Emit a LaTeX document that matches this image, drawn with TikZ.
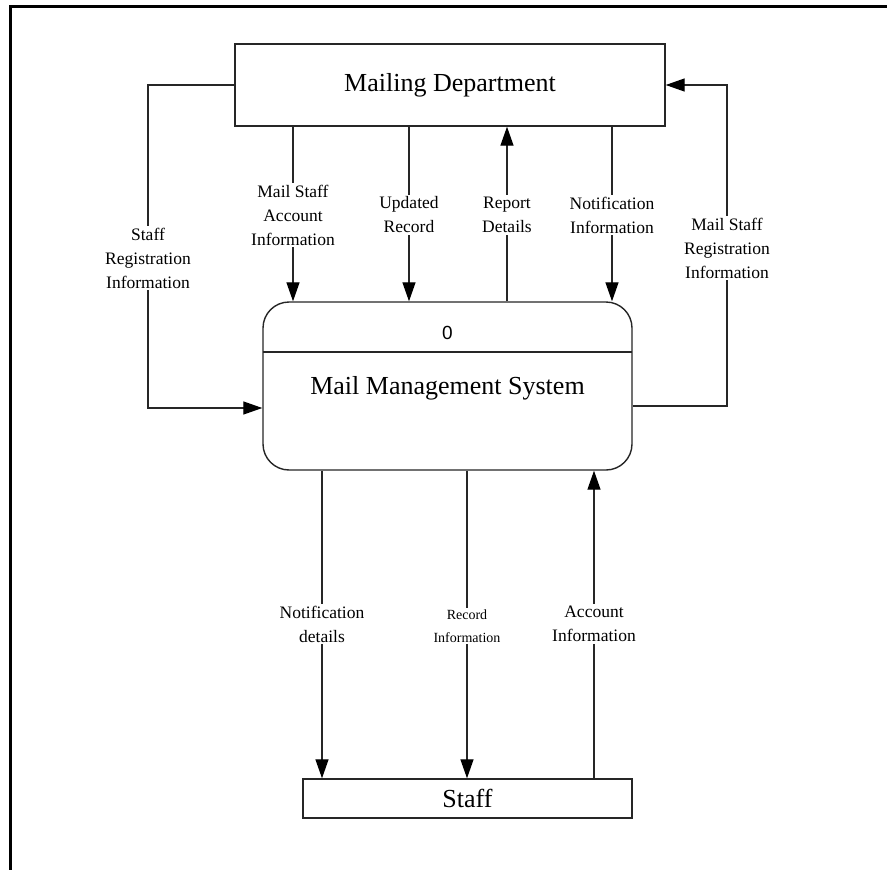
\documentclass[tikz,border=0pt]{standalone}
\usepackage{fontspec}
\setmainfont{Liberation Serif}
\newfontfamily\zerofont{Liberation Sans}
\usetikzlibrary{arrows.meta}
\begin{document}
\begin{tikzpicture}[x=1pt,y=-1pt,
  flow/.style={line width=1.3pt,draw=black!85,-{Triangle[length=19pt,width=13pt,fill=black,color=black]}},
  plainline/.style={line width=1.3pt,draw=black!85},
  entity/.style={draw=black!85,line width=1.4pt,fill=white,inner sep=0pt},
  flab/.style={fill=white,inner sep=2pt,align=center,font=\fontsize{17.5}{24}\selectfont},
  smalllab/.style={fill=white,inner sep=2pt,align=center,font=\fontsize{14}{23}\selectfont}
]
\useasboundingbox (0,0) rectangle (887,870);
\draw[line width=3pt] (10,870) -- (10,6) -- (887,6);

% entities / process
\node[entity,minimum width=430pt,minimum height=82pt,font=\fontsize{26}{30}\selectfont] (md) at (450,85) {Mailing Department};
\node[entity,rounded corners=26pt,minimum width=369pt,minimum height=168pt] (proc) at (447.5,386) {};
\node[entity,minimum width=329pt,minimum height=39pt,font=\fontsize{26}{30}\selectfont] (staff) at (467.5,798.5) {Staff};
\coordinate (dl) at (263,352);
\coordinate (dr) at (632,352);
\draw[plainline] (dl) -- (dr);
\node[font=\zerofont\fontsize{19}{22}\selectfont] (pid) at (447.5,333) {0};
\node[font=\fontsize{26}{30}\selectfont] (pname) at (447.5,388) {Mail Management System};

% x positions of flows
\coordinate (xa) at (293,0);
\coordinate (xb) at (409,0);
\coordinate (xc) at (507,0);
\coordinate (xd) at (612,0);
\coordinate (xe) at (322,0);
\coordinate (xf) at (467,0);
\coordinate (xg) at (594,0);
\coordinate (yl) at (0,408);
\coordinate (yr) at (0,406);
\coordinate (cl) at (148,0);
\coordinate (cr) at (727,0);

% loops
\draw[flow] (md.west) -- (md.west -| cl) -- (cl |- yl) -- (proc.west |- yl);
\draw[flow] (proc.east |- yr) -- (cr |- yr) -- (md.east -| cr) -- (md.east);

% top flows
\draw[flow] (md.south -| xa) -- (proc.north -| xa);
\draw[flow] (md.south -| xb) -- (proc.north -| xb);
\draw[flow] (proc.north -| xc) -- (md.south -| xc);
\draw[flow] (md.south -| xd) -- (proc.north -| xd);

% bottom flows
\draw[flow] (proc.south -| xe) -- (staff.north -| xe);
\draw[flow] (proc.south -| xf) -- (staff.north -| xf);
\draw[flow] (staff.north -| xg) -- (proc.south -| xg);

% labels
\node[flab] (l1) at (148,258) {Staff\\Registration\\Information};
\node[flab] (l2) at (727,248) {Mail Staff\\Registration\\Information};
\node[flab] (l3) at (293,215) {Mail Staff\\Account\\Information};
\node[flab] (l4) at (409,215) {Updated\\Record};
\node[flab] (l5) at (507,215) {Report\\Details};
\node[flab] (l6) at (612,215) {Notification\\Information};
\node[flab] (l7) at (322,624) {Notification\\details};
\node[smalllab] (l8) at (467,626) {Record\\Information};
\node[flab] (l9) at (594,624) {Account\\Information};
\end{tikzpicture}
\end{document}
